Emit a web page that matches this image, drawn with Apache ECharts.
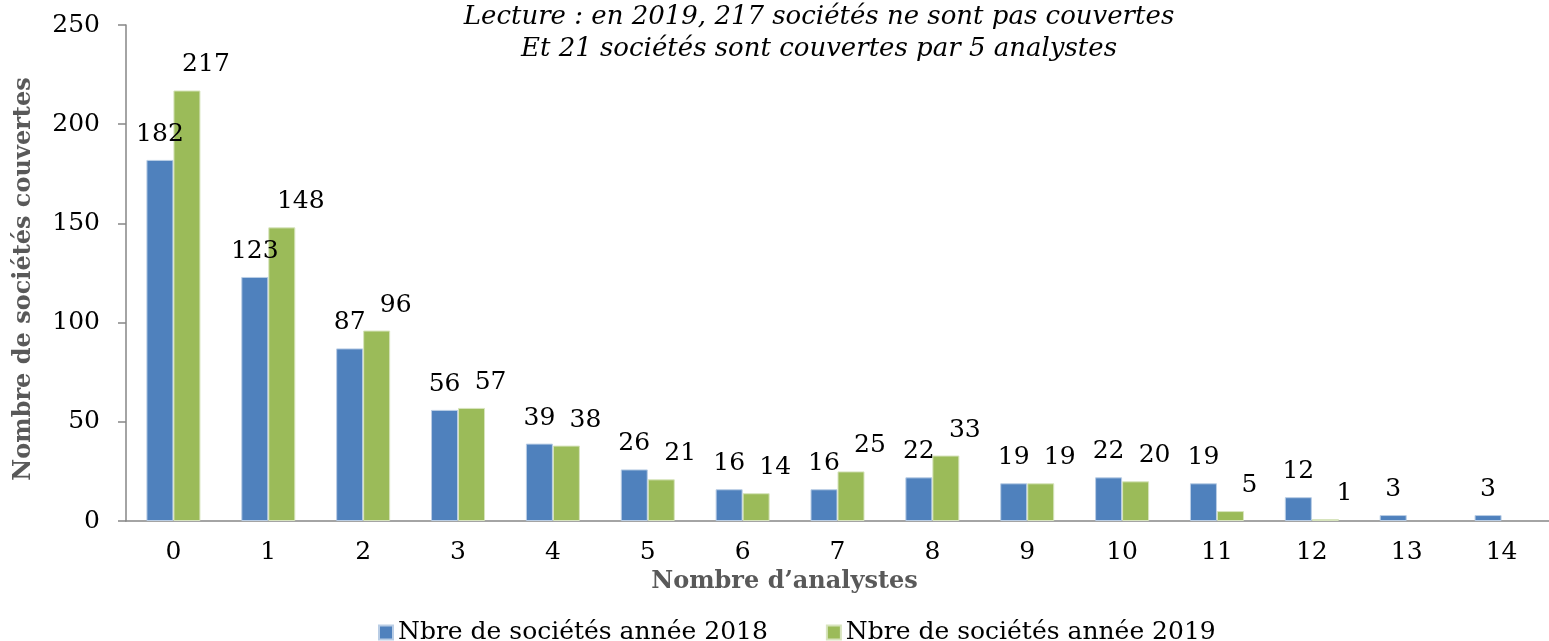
<!DOCTYPE html>
<html>
<head>
<meta charset="utf-8">
<script src="https://cdn.jsdelivr.net/npm/echarts@6/dist/echarts.min.js"></script>
<style>
html, body { margin: 0; padding: 0; background: #fff; }
#main { width: 1549px; height: 641px; }
</style>
</head>
<body>
<div id="main"></div>
<script>
// nombre d'analystes
var analystes = ['0', '1', '2', '3', '4', '5', '6', '7', '8', '9', '10', '11', '12', '13', '14'];
var nb2018 = [182, 123, 87, 56, 39, 26, 16, 16, 22, 19, 22, 19, 12, 3, 3];
var nb2019 = [217, 148, 96, 57, 38, 21, 14, 25, 33, 19, 20, 5, 1, null, null];
var yTicks = [0, 50, 100, 150, 200, 250];

var serif = 'DejaVu Serif';
var myChart = echarts.init(document.getElementById('main'));

option = {
	backgroundColor : '#ffffff',
	animation : false,
	title : {
		text : 'Lecture : en 2019, 217 sociétés ne sont pas couvertes\nEt 21 sociétés sont couvertes par 5 analystes',
		left : 814,
		top : -4,
		textAlign : 'center',
		textStyle : {
			fontFamily : serif,
			fontStyle : 'italic',
			fontWeight : 'normal',
			fontSize : 26,
			lineHeight : 32,
			color : '#000'
		}
	},
	legend : {
		bottom : -9,
		left : 373,
		itemWidth : 14,
		itemHeight : 14,
		itemGap : 58,
		icon : 'rect',
		textStyle : {
			fontFamily : serif,
			fontSize : 25,
			color : '#000'
		},
		data : ['Nbre de sociétés année 2018', 'Nbre de sociétés année 2019']
	},
	grid : {
		left : 126,
		right : -11,
		top : 25,
		bottom : 120
	},
	xAxis : {
		type : 'category',
		data : analystes,
		name : 'Nombre d\u2019analystes',
		nameLocation : 'middle',
		nameGap : 46,
		nameTextStyle : {
			fontFamily : serif,
			fontWeight : 'bold',
			fontSize : 24,
			color : '#595959',
			padding : [0, 106, 0, 0]
		},
		axisLine : { lineStyle : { color : '#868686', width : 1.5 } },
		axisTick : { length : 7, lineStyle : { color : '#868686', width : 1.5 } },
		axisLabel : {
			margin : 19,
			fontFamily : serif,
			fontSize : 25,
			color : '#000'
		}
	},
	yAxis : {
		type : 'value',
		min : yTicks[0],
		max : yTicks[yTicks.length - 1],
		interval : 50,
		name : 'Nombre de sociétés couvertes',
		nameLocation : 'middle',
		nameGap : 90,
		nameTextStyle : {
			fontFamily : serif,
			fontWeight : 'bold',
			fontSize : 24,
			color : '#595959',
			padding : [0, 12, 0, 0]
		},
		splitLine : { show : false },
		axisLine : { show : true, lineStyle : { color : '#868686', width : 1.5 } },
		axisTick : { show : true, length : 8, lineStyle : { color : '#868686', width : 1.5 } },
		axisLabel : {
			margin : 26,
			fontFamily : serif,
			fontSize : 25,
			color : '#000'
		}
	},
	series : [ {
		name : 'Nbre de sociétés année 2018',
		type : 'bar',
		data : nb2018,
		barWidth : 27,
		barGap : '0%',
		itemStyle : {
			color : '#4f81bd',
			borderColor : '#b9cde5',
			borderWidth : 1
		},
		label : {
			show : true,
			position : 'top',
			distance : 13,
			fontFamily : serif,
			fontSize : 25,
			color : '#000'
		}
	}, {
		name : 'Nbre de sociétés année 2019',
		type : 'bar',
		data : nb2019,
		barWidth : 27,
		itemStyle : {
			color : '#9bbb59',
			borderColor : '#d7e4bd',
			borderWidth : 1
		},
		label : {
			show : true,
			position : 'top',
			distance : 13,
			offset : [19, 0],
			fontFamily : serif,
			fontSize : 25,
			color : '#000'
		}
	} ]
};
myChart.setOption(option);
</script>
</body>
</html>
